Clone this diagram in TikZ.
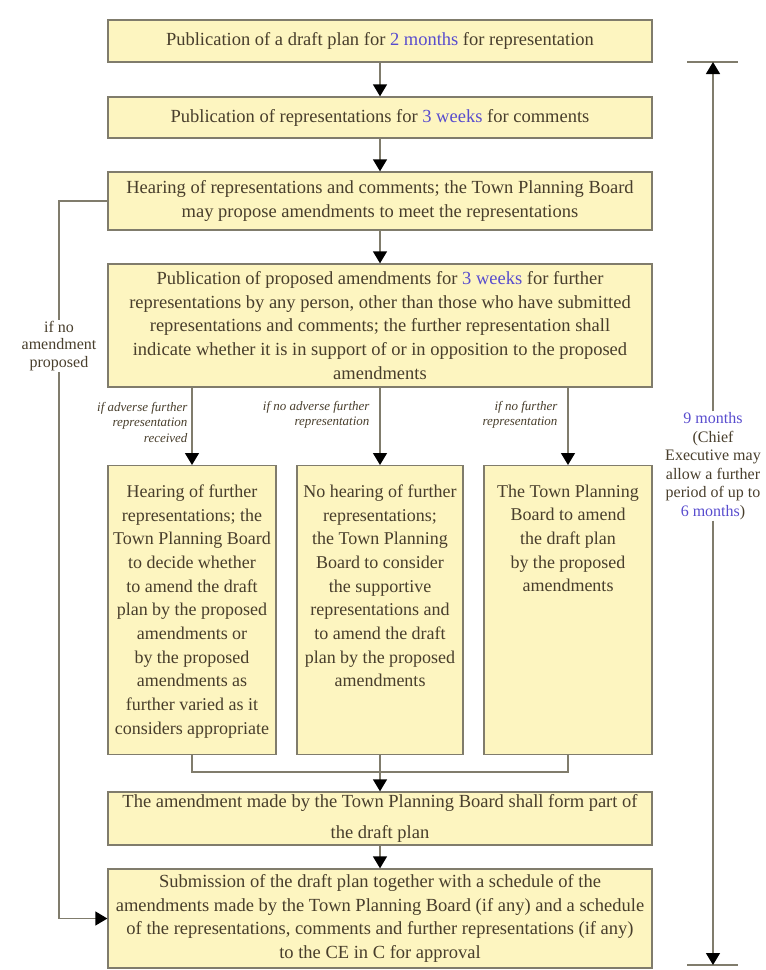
\documentclass[tikz,border=0pt]{standalone}
\usepackage{fontspec}
\setmainfont{Liberation Serif}
\usetikzlibrary{arrows.meta, positioning}
\definecolor{myyellow}{RGB}{253,245,192}
\definecolor{mygray}{RGB}{128,124,108}
\definecolor{mytext}{RGB}{72,62,44}
\definecolor{myblue}{RGB}{88,76,206}
\tikzset{>={Triangle[width=14pt,length=12pt,color=black]}}
\newcommand{\blu}[1]{\textcolor{myblue}{#1}}
\newcommand{\colbox}[2]{\begin{minipage}[t][289pt][t]{#1}\centering\vspace*{19pt}#2\end{minipage}}

\begin{document}
\begin{tikzpicture}[x=1pt, y=-1pt,
  box/.style={draw=mygray, fill=myyellow, line width=1.3pt, text=mytext, align=center, inner sep=0pt,
    font=\fontsize{18.5}{23.7}\selectfont},
  narrow/.style={box, font=\fontsize{18}{23.7}\selectfont},
  link/.style={draw=mygray, line width=1.3pt},
  cond/.style={text=mytext, align=right, anchor=east, font=\fontsize{13}{15.5}\selectfont\itshape},
  side/.style={text=mytext, align=center, inner sep=1pt, font=\fontsize{16}{17.5}\selectfont}]
\useasboundingbox (0,0) rectangle (766,970);

% main column
\node[box, minimum width=544pt, minimum height=42pt] (pub) at (380,41)
  {Publication of a draft plan for \blu{2 months} for representation};
\node[box, minimum width=544pt, minimum height=41pt] (rep) at (380,117.5)
  {Publication of representations for \blu{3 weeks} for comments};
\node[box, minimum width=544pt, minimum height=58pt] (hear) at (380,201)
  {Hearing of representations and comments; the Town Planning Board\\
   may propose amendments to meet the representations};
\node[box, minimum width=544pt, minimum height=123pt] (prop) at (380,325.5)
  {Publication of proposed amendments for \blu{3 weeks} for further\\
   representations by any person, other than those who have submitted\\
   representations and comments; the further representation shall\\
   indicate whether it is in support of or in opposition to the proposed\\
   amendments};

% three outcomes
\node[narrow, anchor=north] (adv) at (192,465)
  {\colbox{168pt}{Hearing of further\\ representations; the\\ Town Planning Board\\ to decide whether\\
   to amend the draft\\ plan by the proposed\\ amendments or\\ by the proposed\\ amendments as\\
   further varied as it\\ considers appropriate}};
\node[narrow, anchor=north] (noadv) at (380,465)
  {\colbox{166pt}{No hearing of further\\ representations;\\ the Town Planning\\ Board to consider\\
   the supportive\\ representations and\\ to amend the draft\\ plan by the proposed\\ amendments}};
\node[narrow, anchor=north] (nof) at (568,465)
  {\colbox{168pt}{The Town Planning\\ Board to amend\\ the draft plan\\ by the proposed\\ amendments}};

\node[box, minimum width=544pt, minimum height=53pt] (made) at (380,818.5)
  {The amendment made by the Town Planning Board shall form part of\\[8pt]
   the draft plan};
\node[box, minimum width=544pt, minimum height=99pt] (sub) at (380,918.5)
  {Submission of the draft plan together with a schedule of the\\
   amendments made by the Town Planning Board (if any) and a schedule\\
   of the representations, comments and further representations (if any)\\
   to the CE in C for approval};

% arrows down the middle
\draw[link,->] (pub) -- (rep);
\draw[link,->] (rep) -- (hear);
\draw[link,->] (hear) -- (prop);
\draw[link,->] (adv.north |- prop.south) -- (adv.north);
\draw[link,->] (prop) -- (noadv);
\draw[link,->] (nof.north |- prop.south) -- (nof.north);
\node[cond] (ca) at (191,422) {if adverse further\\ representation\\ received};
\node[cond] (cb) at (373,415) {if no adverse further\\ representation};
\node[cond] (cc) at (561,415) {if no further\\ representation};

\coordinate (jn) at (380,772);
\draw[link] (adv.south) |- (jn) -| (nof.south);
\draw[link,->] (noadv) -- (made);
\draw[link,->] (made) -- (sub);

% bypass on the left
\node[side] (noam) at (59,346) {if no\\ amendment\\ proposed};
\draw[link] (hear.west) -| (noam.north);
\draw[link,->] (noam.south) |- (sub.west);

% time span on the right
\coordinate (ttop) at (713,62);
\coordinate (tbot) at (713,965);
\draw[link] (687,62) -- (738,62);
\draw[link] (687,965) -- (738,965);
\node[side, font=\fontsize{16}{18.5}\selectfont] (span) at (713,466)
  {\blu{9 months}\\ (Chief\\ Executive may\\ allow a further\\ period of up to\\ \blu{6 months})};
\draw[link,->] (span.north) -- (ttop);
\draw[link,->] (span.south) -- (tbot);

\end{tikzpicture}
\end{document}
